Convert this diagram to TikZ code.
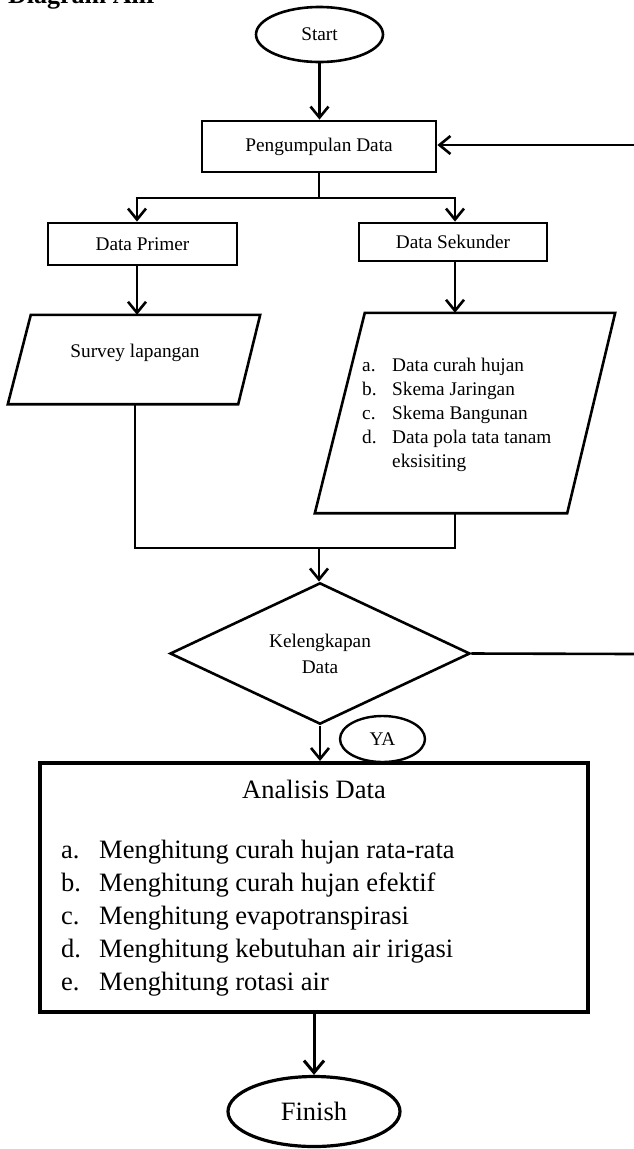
\documentclass[tikz,border=0pt]{standalone}
\usepackage{fontspec}
\setmainfont{Liberation Serif}
\usetikzlibrary{arrows.meta,shapes.geometric}
\begin{document}
\begin{tikzpicture}[x=1pt,y=-1pt,
  line/.style={line width=2.6pt},
  arr/.style={line width=2.6pt,-{Straight Barb[length=11pt,width=18pt,line width=2.6pt]}},
  bigarr/.style={line width=3pt,-{Straight Barb[length=12pt,width=20pt,line width=3pt]}},
  sm/.style={font=\fontsize{19.3}{23}\selectfont, inner sep=0pt},
  lg/.style={font=\fontsize{26.5}{33}\selectfont, inner sep=0pt},
  box/.style={draw, line width=2.8pt, rectangle, inner sep=0pt},
  oval/.style={draw, ellipse, inner sep=0pt},
  item/.style={anchor=base west, inner sep=0pt}]
\useasboundingbox (0,0) rectangle (634,1149);

\node[anchor=base west, inner sep=0pt, font=\bfseries\fontsize{26}{30}\selectfont] (title) at (8,3) {Diagram Alir};

% Start
\node[oval, line width=2.6pt, minimum width=127pt, minimum height=55pt, sm] (start) at (319.5,34.5) {Start};

% Pengumpulan Data
\node[box, minimum width=234pt, minimum height=51pt, sm] (pd) at (319,146.5) {Pengumpulan Data};
\draw[arr] (start.south) -- (start.south |- pd.north);
\coordinate (loopTop) at (634,145);
\draw[arr] (loopTop) -- (loopTop -| pd.east);

% split
\coordinate (splitL) at (137,198);
\coordinate (splitR) at (455,198);
\coordinate (splitC) at (319,198);
\node[box, minimum width=189pt, minimum height=42pt, sm] (dp) at (142.5,244) {Data Primer};
\node[box, minimum width=188pt, minimum height=38pt, sm] (ds) at (453,242) {Data Sekunder};
\draw[line] (pd.south) -- (splitC);
\draw[line] ([xshift=-1.3pt]splitL) -- ([xshift=1.3pt]splitR);
\draw[arr] (splitL) -- (splitL |- dp.north);
\draw[arr] (splitR) -- (splitR |- ds.north);

% Survey lapangan parallelogram
\node[minimum width=252pt, minimum height=89pt, inner sep=0pt] (sv) at (134,359.5) {};
\draw[line, line join=miter] ([xshift=23pt]sv.north west) -- (sv.north east) -- ([xshift=-22pt]sv.south east) -- (sv.south west) -- cycle;
\node[sm] (svtext) at (135,353) {Survey lapangan};
\draw[arr] (splitL |- dp.south) -- (splitL |- sv.north);

% Data sekunder parallelogram
\node[minimum width=300pt, minimum height=200pt, inner sep=0pt] (sk) at (465,413) {};
\draw[line, line join=miter] ([xshift=50pt]sk.north west) -- (sk.north east) -- ([xshift=-48pt]sk.south east) -- (sk.south west) -- cycle;
\draw[arr] (splitR |- ds.south) -- (splitR |- sk.north);
\begin{scope}[font=\fontsize{19.3}{23}\selectfont]
\node[item] (la) at (362,371) {a.};
\node[item] (ta) at (392,371) {Data curah hujan};
\node[item] (lb) at (362,395) {b.};
\node[item] (tb) at (392,395) {Skema Jaringan};
\node[item] (lc) at (362,419) {c.};
\node[item] (tc) at (392,419) {Skema Bangunan};
\node[item] (ld) at (362,443) {d.};
\node[item] (td) at (392,443) {Data pola tata tanam};
\node[item] (te) at (392,467) {eksisiting};
\end{scope}

% merge
\coordinate (mL) at (135,548);
\coordinate (mR) at (455,548);
\coordinate (mC) at (319,548);
\draw[line, line join=miter] (sv.south -| mL) -- (mL) -- (mR) -- (mR |- sk.south);

% diamond
\node[diamond, draw, line width=2.6pt, minimum width=300pt, minimum height=141pt, inner sep=0pt, align=center, font=\fontsize{19.3}{26}\selectfont] (kd) at (320,653.5) {Kelengkapan\\Data};
\draw[arr] (mC) -- (mC |- kd.north);
\coordinate (loopBot) at (634,654);
\draw[line] (kd.east) -- (loopBot);

% YA
\node[oval, line width=2.4pt, minimum width=85pt, minimum height=46pt, sm] (ya) at (382.5,739) {YA};

% Analisis Data
\node[draw, line width=4pt, minimum width=548pt, minimum height=249pt, inner sep=0pt] (an) at (314,887.5) {};
\draw[arr] (kd.south) -- (kd.south |- an.north);
\node[lg] (antitle) at (314,789) {Analisis Data};
\begin{scope}[font=\fontsize{26.5}{33}\selectfont]
\node[item] (a1) at (61,858) {a.};
\node[item] (b1) at (99,858) {Menghitung curah hujan rata-rata};
\node[item] (a2) at (61,891) {b.};
\node[item] (b2) at (99,891) {Menghitung curah hujan efektif};
\node[item] (a3) at (61,924) {c.};
\node[item] (b3) at (99,924) {Menghitung evapotranspirasi};
\node[item] (a4) at (61,957) {d.};
\node[item] (b4) at (99,957) {Menghitung kebutuhan air irigasi};
\node[item] (a5) at (61,990) {e.};
\node[item] (b5) at (99,990) {Menghitung rotasi air};
\end{scope}

% Finish
\node[oval, line width=3.2pt, minimum width=172pt, minimum height=70pt, lg] (fin) at (314,1111.5) {Finish};
\draw[bigarr] (an.south) -- (fin.north);
\end{tikzpicture}
\end{document}
